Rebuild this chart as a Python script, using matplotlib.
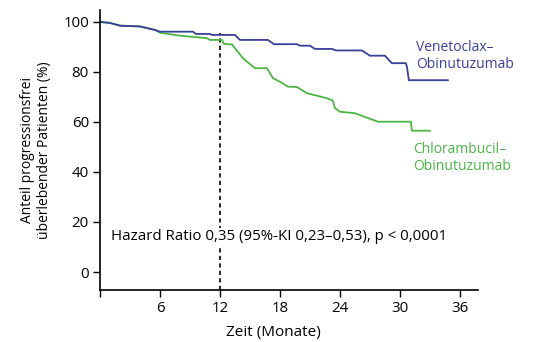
import matplotlib
matplotlib.use("Agg")
import matplotlib.pyplot as plt

# Kaplan-Meier curves
ven_t = [0, 1.0, 2.0, 4.0, 5.5, 6.0, 9.3, 9.6, 11.0, 11.2, 13.5, 14.0, 16.8, 17.4,
         19.7, 20.0, 21.0, 21.5, 23.2, 23.6, 26.2, 27.0, 28.5, 29.2, 30.6, 30.7, 30.9, 34.8]
ven_s = [100, 99.6, 98.5, 98.2, 96.8, 96.1, 96.1, 95.2, 95.2, 94.8, 94.8, 92.8, 92.8, 91.1,
         91.1, 90.5, 90.5, 89.2, 89.2, 88.6, 88.6, 86.5, 86.5, 83.5, 83.5, 82.2, 76.7, 76.7]

chl_t = [0, 1.0, 2.0, 4.0, 5.5, 6.0, 8.0, 10.7, 11.0, 12.2, 12.4, 13.2, 14.3, 15.5, 16.7,
         17.3, 18.0, 18.8, 19.7, 20.7, 22.7, 23.3, 23.5, 24.0, 25.5, 27.8, 31.1, 31.2, 33.0]
chl_s = [100, 99.6, 98.5, 98.2, 96.8, 95.7, 94.5, 93.5, 92.8, 92.8, 91.2, 91.0, 85.5, 81.5, 81.5,
         77.5, 76.1, 74.1, 74.0, 71.5, 69.5, 68.5, 65.6, 64.1, 63.5, 60.1, 60.1, 56.5, 56.5]

x_ticks = [0, 6, 12, 18, 24, 30, 36]
x_labels = ["", "6", "12", "18", "24", "30", "36"]
y_ticks = [0, 20, 40, 60, 80, 100]

blue = "#3a3f98"
green = "#4bb545"

plt.rcParams['font.family'] = ['Open Sans', 'DejaVu Sans']

fig = plt.figure(figsize=(5.5, 3.42), dpi=100)
ax = fig.add_axes([0.1818, 0.152, 0.687, 0.819])

ax.plot([12, 12], [-7.2, 95.5], color="black", lw=1.2, ls=(0, (2.5, 2)), zorder=1)
ax.plot(chl_t, chl_s, color=green, lw=1.3, zorder=2)
ax.plot(ven_t, ven_s, color=blue, lw=1.3, zorder=2)

ax.set_xlim(0, 37.8)
ax.set_ylim(-7.2, 104.8)
ax.set_xticks(x_ticks)
ax.set_xticklabels(x_labels)
ax.set_yticks(y_ticks)
ax.spines['top'].set_visible(False)
ax.spines['right'].set_visible(False)
ax.spines['left'].set_linewidth(1.2)
ax.spines['bottom'].set_linewidth(1.2)
ax.tick_params(length=5, width=1.0, pad=3, labelsize=10.8)

ax.set_xlabel("Zeit (Monate)", fontsize=11)
ax.xaxis.set_label_coords(0.46, -0.125)
ax.set_ylabel("Anteil progressionsfrei\nüberlebender Patienten (%)", fontsize=10, labelpad=8)

ax.text(31.6, 86.4, "Venetoclax–\nObinutuzumab", color=blue, fontsize=10, ha="left", va="center", linespacing=1.2)
ax.text(31.3, 45.6, "Chlorambucil–\nObinutuzumab", color=green, fontsize=10, ha="left", va="center", linespacing=1.2)
ax.text(1.1, 14.2, "Hazard Ratio 0,35 (95%-KI 0,23–0,53), p < 0,0001", fontsize=10.8, ha="left", va="center",
        bbox=dict(facecolor="white", edgecolor="none", pad=1), zorder=3)

fig.savefig("out.png", dpi=100)
